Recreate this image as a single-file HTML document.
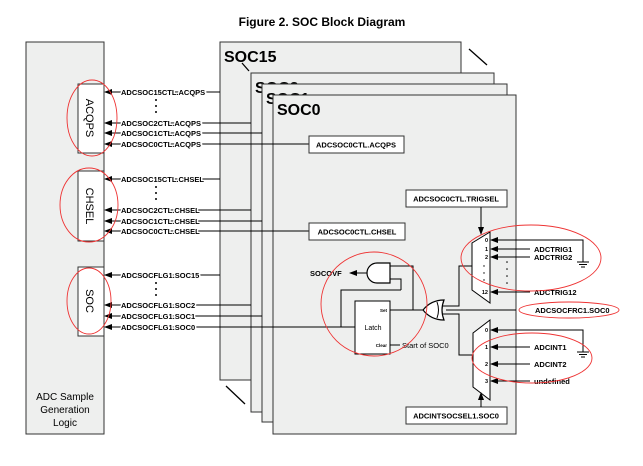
<!DOCTYPE html>
<html><head><meta charset="utf-8"><style>
html,body{margin:0;padding:0;background:#fff;}
svg{display:block;}
text{font-family:"Liberation Sans",Arial,sans-serif;}
.s{font-size:7.5px;font-weight:bold;}
</style></head><body>
<svg width="643" height="466" viewBox="0 0 643 466" xmlns="http://www.w3.org/2000/svg">
<defs><marker id="a" markerWidth="8" markerHeight="6" refX="7" refY="3" orient="auto" markerUnits="userSpaceOnUse"><path d="M0,0 L8,3 L0,6 z" fill="#000"/></marker></defs>
<text x="322" y="26" text-anchor="middle" font-size="12" font-weight="bold">Figure 2. SOC Block Diagram</text>
<!-- left panel -->
<rect x="26" y="42" width="78" height="392" fill="#eeefee" stroke="#333" stroke-width="1"/>
<rect x="78" y="84" width="26" height="69" fill="#fff" stroke="#333"/>
<rect x="78" y="171" width="26" height="70" fill="#fff" stroke="#333"/>
<rect x="78" y="267" width="26" height="69" fill="#fff" stroke="#333"/>
<text transform="translate(86,118) rotate(90)" text-anchor="middle" font-size="11">ACQPS</text>
<text transform="translate(86,206) rotate(90)" text-anchor="middle" font-size="11">CHSEL</text>
<text transform="translate(86,301) rotate(90)" text-anchor="middle" font-size="11">SOC</text>
<text x="65" y="400" text-anchor="middle" font-size="10">ADC Sample</text>
<text x="65" y="413" text-anchor="middle" font-size="10">Generation</text>
<text x="65" y="426" text-anchor="middle" font-size="10">Logic</text>
<!-- SOC stack -->
<rect x="220" y="42" width="241" height="338" fill="#eeefee" stroke="#333"/>
<text x="224" y="62" font-size="16" font-weight="bold">SOC15</text>
<line x1="242" y1="63" x2="249" y2="71" stroke="#000" stroke-width="1.3"/>
<line x1="469" y1="49" x2="487" y2="65" stroke="#000" stroke-width="1.3"/>
<line x1="226" y1="386" x2="245" y2="404" stroke="#000" stroke-width="1.3"/>
<rect x="251" y="73" width="243" height="339" fill="#eeefee" stroke="#333"/>
<text x="255" y="93" font-size="16" font-weight="bold">SOC2</text>
<rect x="262" y="84" width="245" height="338" fill="#eeefee" stroke="#333"/>
<text x="266" y="104" font-size="16" font-weight="bold">SOC1</text>
<rect x="273" y="95" width="243" height="339" fill="#eeefee" stroke="#333"/>
<text x="277" y="115" font-size="16" font-weight="bold">SOC0</text>
<!-- signal lines -->
<g stroke="#000" stroke-width="1" fill="none" marker-end="url(#a)">
<path d="M220,92 H105"/><path d="M251,123 H105"/><path d="M262,133 H105"/><path d="M309,144 H105"/>
<path d="M220,179 H105"/><path d="M251,210 H105"/><path d="M262,221 H105"/><path d="M309,231 H105"/>
<path d="M220,275 H105"/><path d="M251,305 H105"/><path d="M262,316 H105"/><path d="M355,327 H105"/>
</g>
<g class="s">
<text x="121" y="95" fill="#000" style="paint-order:stroke" stroke="#fff" stroke-width="3">ADCSOC15CTL.ACQPS</text>
<text x="121" y="126" stroke="#fff" stroke-width="3" style="paint-order:stroke">ADCSOC2CTL.ACQPS</text>
<text x="121" y="136" stroke="#fff" stroke-width="3" style="paint-order:stroke">ADCSOC1CTL.ACQPS</text>
<text x="121" y="147" stroke="#fff" stroke-width="3" style="paint-order:stroke">ADCSOC0CTL.ACQPS</text>
<text x="121" y="182" stroke="#fff" stroke-width="3" style="paint-order:stroke">ADCSOC15CTL.CHSEL</text>
<text x="121" y="213" stroke="#fff" stroke-width="3" style="paint-order:stroke">ADCSOC2CTL.CHSEL</text>
<text x="121" y="224" stroke="#fff" stroke-width="3" style="paint-order:stroke">ADCSOC1CTL.CHSEL</text>
<text x="121" y="234" stroke="#fff" stroke-width="3" style="paint-order:stroke">ADCSOC0CTL.CHSEL</text>
<text x="121" y="278" stroke="#fff" stroke-width="3" style="paint-order:stroke">ADCSOCFLG1.SOC15</text>
<text x="121" y="308" stroke="#fff" stroke-width="3" style="paint-order:stroke">ADCSOCFLG1.SOC2</text>
<text x="121" y="319" stroke="#fff" stroke-width="3" style="paint-order:stroke">ADCSOCFLG1.SOC1</text>
<text x="121" y="330" stroke="#fff" stroke-width="3" style="paint-order:stroke">ADCSOCFLG1.SOC0</text>
</g>
<g fill="#000">
<circle cx="156" cy="100" r="1"/><circle cx="156" cy="106" r="1"/><circle cx="156" cy="112" r="1"/>
<circle cx="156" cy="187" r="1"/><circle cx="156" cy="193" r="1"/><circle cx="156" cy="199" r="1"/>
<circle cx="156" cy="283" r="1"/><circle cx="156" cy="289" r="1"/><circle cx="156" cy="295" r="1"/>
</g>
<!-- SOC0 internal boxes -->
<rect x="309" y="136" width="95" height="17" fill="#fff" stroke="#333"/>
<text x="356" y="147.5" text-anchor="middle" class="s">ADCSOC0CTL.ACQPS</text>
<rect x="309" y="223" width="96" height="17" fill="#fff" stroke="#333"/>
<text x="357" y="234.5" text-anchor="middle" class="s">ADCSOC0CTL.CHSEL</text>
<rect x="406" y="190" width="101" height="17" fill="#fff" stroke="#333"/>
<text x="456" y="201.5" text-anchor="middle" class="s">ADCSOC0CTL.TRIGSEL</text>
<rect x="406" y="407" width="101" height="17" fill="#fff" stroke="#333"/>
<text x="456" y="418.5" text-anchor="middle" class="s">ADCINTSOCSEL1.SOC0</text>
<!-- muxes -->
<polygon points="472,243 490,232 490,303 472,290" fill="#fff" stroke="#000"/>
<polygon points="473,333 490,320 490,400 473,387" fill="#fff" stroke="#000"/>
<g font-size="5.5" font-weight="bold" text-anchor="end">
<text x="488" y="242">0</text><text x="488" y="251">1</text><text x="488" y="259">2</text><text x="488" y="294">12</text>
<text x="488" y="332">0</text><text x="488" y="349">1</text><text x="488" y="366">2</text><text x="488" y="383">3</text>
</g>
<g fill="#000"><circle cx="484" cy="266" r=".7"/><circle cx="484" cy="273" r=".7"/><circle cx="484" cy="280" r=".7"/>
<circle cx="507" cy="262" r=".8"/><circle cx="507" cy="269" r=".8"/><circle cx="507" cy="276" r=".8"/><circle cx="507" cy="283" r=".8"/></g>
<g stroke="#000" fill="none" marker-end="url(#a)">
<path d="M481,207 V234"/><path d="M481,407 V393"/>
<path d="M530,240 H491"/><path d="M530,249 H491"/><path d="M530,257 H491"/><path d="M530,292 H491"/>
<path d="M530,330 H491"/><path d="M530,347 H491"/><path d="M530,364 H491"/><path d="M530,381 H491"/>
<path d="M367,273 H350"/>
</g>
<g stroke="#000" fill="none">
<path d="M530,240 H583 V262"/><path d="M577,262 H589 M579,264.5 H587 M581,267 H585"/>
<path d="M530,330 H583 V352"/><path d="M577,352 H589 M579,354.5 H587 M581,357 H585"/>
<path d="M516,310 H446"/>
<path d="M472,266 H459 V306 H442"/>
<path d="M473,355 H459 V314 H442"/>
<path d="M424,310 H390"/>
<path d="M413,310 V266 H390"/>
<path d="M401,290 V279 H390"/>
<path d="M401,290 H341 V327"/>
<path d="M390,345 H400"/>
</g>
<!-- OR gate -->
<path d="M423,310 Q431,300 444,300 Q440,310 444,320 Q431,320 423,310 Z" fill="#fff" stroke="#000" stroke-width="1.2"/>
<path d="M437,302 Q440,310 437,318" fill="none" stroke="#000"/>
<!-- AND gate -->
<path d="M390,263 H377 A10,10 0 0 0 377,283 H390 Z" fill="#fff" stroke="#000" stroke-width="1.2"/>
<!-- latch -->
<rect x="355" y="301" width="35" height="53" fill="#fff" stroke="#000"/>
<text x="373" y="330" text-anchor="middle" font-size="7">Latch</text>
<text x="387" y="312" text-anchor="end" font-size="4.5" font-weight="bold">Set</text>
<text x="387" y="347" text-anchor="end" font-size="4.5" font-weight="bold">Clear</text>
<text x="402" y="348" font-size="7.5">Start of SOC0</text>
<text x="310" y="276" class="s">SOCOVF</text>
<g class="s">
<text x="534" y="252">ADCTRIG1</text><text x="534" y="260">ADCTRIG2</text><text x="534" y="295">ADCTRIG12</text>
<text x="535" y="313">ADCSOCFRC1.SOC0</text>
<text x="534" y="350">ADCINT1</text><text x="534" y="367">ADCINT2</text><text x="534" y="384">undefined</text>
</g>
<!-- red ellipses -->
<g fill="none" stroke="#e33" stroke-width="0.9">
<ellipse cx="92" cy="118" rx="25" ry="38"/>
<ellipse cx="89" cy="205" rx="29" ry="37"/>
<ellipse cx="89" cy="301" rx="22" ry="33"/>
<ellipse cx="374" cy="304" rx="53" ry="52"/>
<ellipse cx="531" cy="258" rx="70" ry="33"/>
<ellipse cx="569" cy="310" rx="50" ry="8"/>
<ellipse cx="532" cy="358" rx="60" ry="25"/>
</g>
</svg>
</body></html>
